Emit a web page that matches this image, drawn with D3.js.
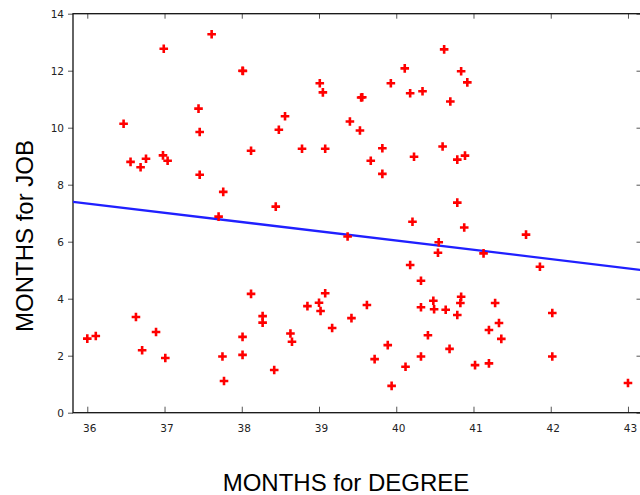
<!DOCTYPE html>
<html>
<head>
<meta charset="utf-8">
<script src="https://cdn.jsdelivr.net/npm/d3@7/dist/d3.min.js"></script>
<style>
  html, body { margin: 0; padding: 0; background: #fff; }
  svg { display: block; }
</style>
</head>
<body>
<svg id="chart" width="640" height="495"></svg>
<script>
// Months spent on the degree (x) and months until a job (y), one entry per graduate
const degreeMonths = [
  36.47, 36.56, 36.69, 36.76, 36.98, 37.04, 36.99, 37.44, 37.455, 37.455,
  37.61, 37.76, 37.70, 36.00, 36.11, 36.63, 36.71, 36.89, 37.01, 37.75,
  38.01, 38.015, 38.12, 38.44, 38.48, 38.56, 38.78, 39.01, 39.05, 39.08,
  39.545, 39.56, 39.40, 39.53, 39.67, 39.82, 39.82, 39.93, 40.11, 40.18,
  40.23, 40.34, 40.21, 40.62, 40.84, 40.92, 40.70, 40.60, 40.79, 40.89,
  40.79, 40.88, 41.68, 40.55, 40.54, 41.13, 41.86, 40.32, 40.48, 40.32,
  40.49, 40.64, 40.84, 40.83, 40.79, 41.28, 41.33, 41.20, 41.36, 42.02,
  40.41, 40.69, 40.32, 41.02, 41.20, 42.02, 43.00, 39.37, 40.18, 38.12,
  38.27, 38.27, 38.01, 38.01, 37.77, 38.42, 38.63, 38.65, 38.85, 39.00,
  39.02, 39.08, 39.17, 39.42, 39.62, 39.72, 39.89, 39.94, 40.12
];
const jobMonths = [
  10.14, 8.80, 8.61, 8.91, 9.03, 8.84, 12.77, 10.67, 9.85, 8.35,
  13.28, 7.75, 6.88, 2.60, 2.69, 3.36, 2.19, 2.83, 1.92, 1.97,
  12.00, 11.99, 9.19, 7.23, 9.93, 10.40, 9.26, 11.56, 11.24, 9.26,
  11.06, 11.07, 10.22, 9.90, 8.84, 9.28, 8.38, 11.56, 12.08, 11.21,
  8.98, 11.28, 6.70, 12.75, 11.98, 11.59, 10.92, 9.34, 8.88, 9.02,
  7.37, 6.50, 6.25, 5.98, 5.61, 5.59, 5.12, 4.63, 3.93, 3.70,
  3.63, 3.61, 4.07, 3.85, 3.43, 3.85, 3.15, 2.90, 2.59, 3.50,
  2.72, 2.24, 1.97, 1.67, 1.73, 1.97, 1.04, 6.18, 5.18, 4.17,
  3.39, 3.16, 2.66, 2.03, 1.11, 1.50, 2.78, 2.49, 3.74, 3.86,
  3.57, 4.19, 2.97, 3.32, 3.78, 1.88, 2.37, 0.94, 1.61
];

// Fitted straight line: job = intercept + slope * degree
const fitIntercept = 19.04;
const fitSlope = -0.325;

const xTicks = [36, 37, 38, 39, 40, 41, 42, 43];
const yTicks = [0, 2, 4, 6, 8, 10, 12, 14];
const xTitle = "MONTHS for DEGREE";
const yTitle = "MONTHS for JOB";

const svg = d3.select("#chart");
const plot = { left: 73, right: 641.5, top: 13.7, bottom: 412.7 };

const x = d3.scaleLinear().domain([35.815, 43.175]).range([plot.left, plot.right]);
const y = d3.scaleLinear().domain([0, 14]).range([plot.bottom, plot.top]);

const tickColor = "#555";
const labelFont = "'DejaVu Sans', Verdana, sans-serif";

svg.append("defs").append("clipPath").attr("id", "plotClip")
  .append("rect")
  .attr("x", plot.left).attr("y", plot.top)
  .attr("width", plot.right - plot.left).attr("height", plot.bottom - plot.top);

// Bottom axis: ticks point into the plot
const xAxis = svg.append("g")
  .attr("transform", `translate(0,${plot.bottom})`)
  .call(d3.axisBottom(x).tickValues(xTicks).tickSizeInner(-6).tickSizeOuter(0).tickPadding(12));
// Top axis: inward ticks, no labels
const xAxisTop = svg.append("g")
  .attr("transform", `translate(0,${plot.top})`)
  .call(d3.axisTop(x).tickValues(xTicks).tickSizeInner(-5).tickSizeOuter(0).tickFormat(""));
// Left axis: outward ticks with labels
const yAxis = svg.append("g")
  .attr("transform", `translate(${plot.left},0)`)
  .call(d3.axisLeft(y).tickValues(yTicks).tickSizeInner(5).tickSizeOuter(0).tickPadding(4));
// Right axis: inward ticks
const yAxisRight = svg.append("g")
  .attr("transform", `translate(${plot.right},0)`)
  .call(d3.axisRight(y).tickValues(yTicks).tickSizeInner(-5).tickSizeOuter(0).tickFormat(""));

[xAxis, xAxisTop, yAxis, yAxisRight].forEach(g => {
  g.select(".domain").remove();
  g.selectAll(".tick line").attr("stroke", tickColor).attr("stroke-width", 1);
  g.selectAll(".tick text")
    .attr("fill", "#222")
    .style("font-family", labelFont)
    .style("font-size", "10.5px");
});
xAxis.selectAll(".tick text").attr("dy", "0.71em").attr("dx", "2");

// Frame around the plot
svg.append("rect")
  .attr("x", plot.left).attr("y", plot.top)
  .attr("width", plot.right - plot.left).attr("height", plot.bottom - plot.top)
  .attr("fill", "none").attr("stroke", "#111").attr("stroke-width", 1.3);

const inner = svg.append("g").attr("clip-path", "url(#plotClip)");

// Fitted line across the full x range
const [x0, x1] = x.domain();
inner.append("line")
  .attr("x1", x(x0)).attr("y1", y(fitIntercept + fitSlope * x0))
  .attr("x2", x(x1)).attr("y2", y(fitIntercept + fitSlope * x1))
  .attr("stroke", "#2020ff").attr("stroke-width", 2.3);

// Plus-shaped markers
const pts = degreeMonths.map((d, i) => [d, jobMonths[i]]);
const arm = 4.3;
inner.append("g").selectAll("path")
  .data(pts)
  .join("path")
  .attr("d", d => {
    const cx = x(d[0]), cy = y(d[1]);
    return `M${cx - arm},${cy}H${cx + arm}M${cx},${cy - arm}V${cy + arm}`;
  })
  .attr("stroke", "#ff0000").attr("stroke-width", 2.6).attr("fill", "none");

// Axis titles
svg.append("text")
  .attr("x", 346).attr("y", 491)
  .attr("text-anchor", "middle")
  .style("font-family", "'Liberation Sans', Arial, sans-serif")
  .style("font-size", "24px")
  .attr("fill", "#000")
  .text(xTitle);

svg.append("text")
  .attr("transform", "translate(33,236) rotate(-90)")
  .attr("text-anchor", "middle")
  .style("font-family", "'Liberation Sans', Arial, sans-serif")
  .style("font-size", "24px")
  .attr("fill", "#000")
  .text(yTitle);
</script>
</body>
</html>
